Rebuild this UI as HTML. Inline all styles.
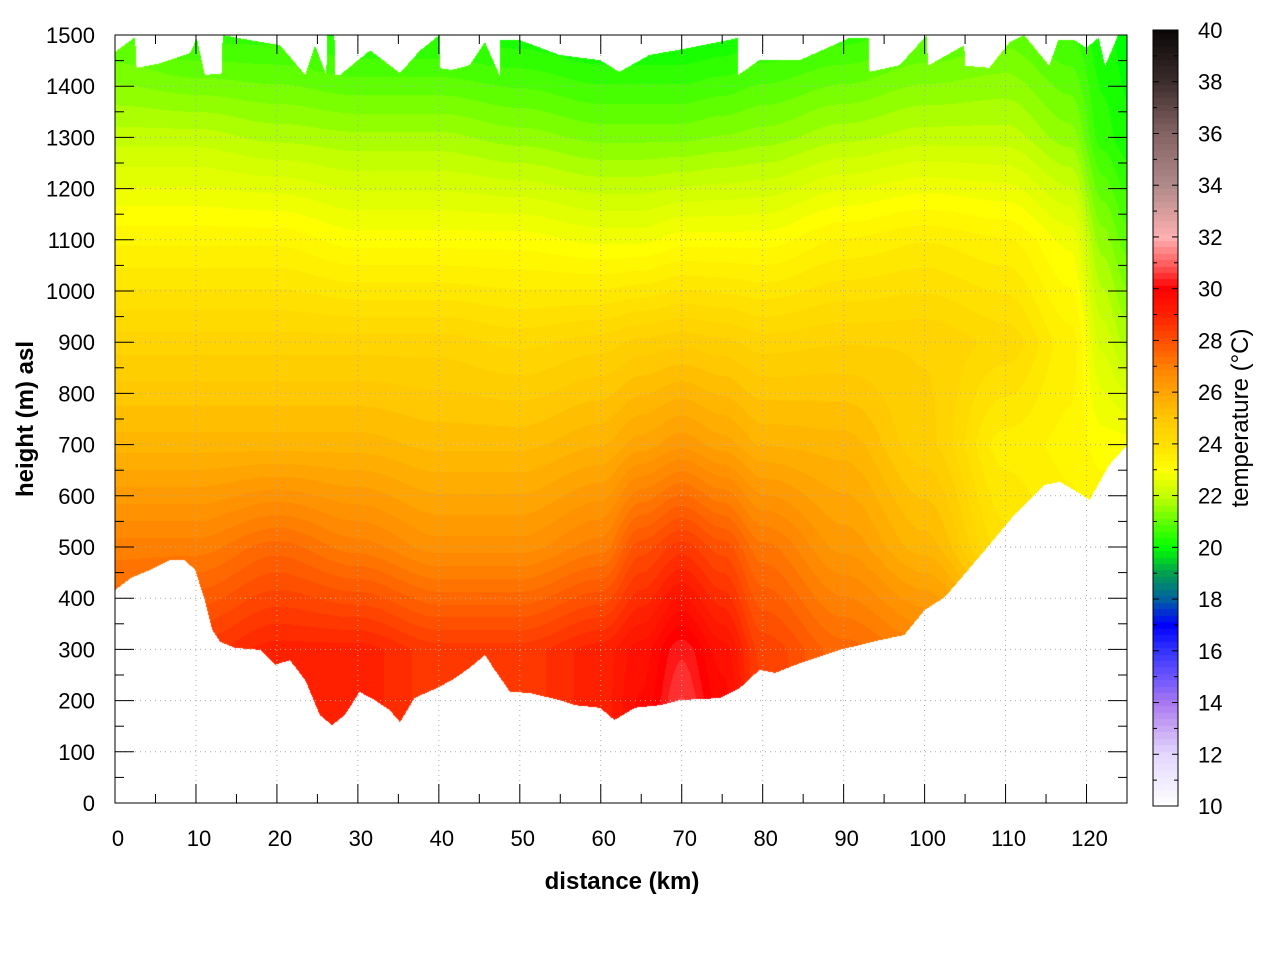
<!DOCTYPE html>
<html><head><meta charset="utf-8"><style>
body{margin:0;background:#fff;width:1280px;height:960px;overflow:hidden;font-family:"Liberation Sans",sans-serif}
#wrap{position:relative;width:1280px;height:960px}
canvas{position:absolute;left:0;top:0}
svg{position:absolute;left:0;top:0}
</style></head><body><div id="wrap">
<canvas id="cv" width="1280" height="960"></canvas>
<svg id="sv" width="1280" height="960"></svg>
</div>
<script>
const gridDist=[0,10,20,30,40,50,60,65,70,75,80,90,100,110,118,122,125];
const gridHeight=[100,300,500,700,900,1100,1300,1500];
const tempRows=[
[28,28.5,29,29,28.5,28.5,29,29.8,31,30,28.5,27.5,27,26,24.5,24,24],
[28,28.5,29,29,28.5,28.5,29,29.5,30.3,29.5,28.3,27.5,27,26,24.5,24,24],
[27,27,27.5,27,26.5,26.5,27,28,28.5,28,27.2,26.3,25.5,24,23.5,23.5,23.5],
[25.5,25.5,25.5,25.5,25.3,25.3,25.6,26,26.3,26,25.6,25.5,24.7,23.5,23.3,23,23],
[24.5,24.5,24.5,24.5,24.5,24.3,24.5,24.7,24.8,24.7,24.5,24.6,24.6,24.3,23.5,22.3,21.8],
[23.3,23.3,23.3,23,23,23,22.8,22.8,23,23,23,23.4,23.6,23.4,22.8,21.5,21],
[22,22,21.8,21.7,21.7,21.5,21.3,21.3,21.3,21.4,21.5,21.8,22,22,21.5,20.5,20.2],
[20.8,20.5,20.5,20.3,20.3,20.2,20,20,20,20.1,20.3,20.5,20.8,21,20.6,20.2,20]];
const groundDist=[0,2,4.3,6.8,8.6,9.9,11.1,12,13,14.8,17.9,19.8,21.6,23.5,25.3,26.8,28.4,30.2,32.1,33.9,35.2,37,40.1,42,43.8,45.7,46.9,48.8,51.2,54.9,56.8,59.9,61.7,64.2,67.3,69.8,74.7,77.2,79.6,81.5,84.6,89.5,94.4,97.5,100,102.5,104.3,108,111.1,114.8,116.7,118.5,120.4,122.8,125];
const groundHeight=[416,440,455,475,475,455,396,338,315,303,299,270,279,240,172,152,172,217,201,182,158,205,227,244,264,289,260,217,215,201,191,186,162,186,191,201,205,225,260,254,273,299,318,328,377,402,435,504,563,621,627,611,592,660,699];
const topDist=[0,2.5,2.6,2.8,5.6,9.3,10.1,11.1,13.2,13.3,16.7,20.4,23.5,24.7,26.1,26.2,27.1,27.2,27.8,31.5,35.2,37.7,40.1,40.2,41.6,43.8,45.7,47.5,47.6,50,54.9,59.9,62.3,66,71,76.9,77.0,79.6,84.6,90.7,93.1,93.2,96.9,100.3,100.4,104.9,105,108,110.5,112.3,115.4,116.5,118.5,120,121.5,122.3,123.9,125];
const topHeight=[1467,1496,1440,1436,1445,1465,1494,1422,1425,1500,1490,1480,1422,1480,1422,1500,1500,1422,1422,1470,1426,1470,1500,1435,1432,1441,1486,1422,1490,1490,1461,1451,1428,1461,1475,1494,1422,1451,1451,1494,1494,1428,1441,1500,1440,1480,1440,1436,1486,1500,1440,1490,1490,1475,1495,1440,1500,1500];
const cbTemps=[10,12,13,14,15,16,17,18,19,20,21,22,23,24,25,26,27,28,29,30,31,32,34,36,38,40];
const cbColors=['#ffffff','#e4d8ff','#c8a8f4','#a878f0','#6c54ff','#3434ff','#0000ff','#0060a0','#00a050','#00ff00','#60ff00','#c4ff00','#ffff00','#ffe000','#ffc800','#ffa400','#ff8000','#ff5000','#ff2000','#ff0000','#ff6060','#ffb0b0','#b08a8a','#846464','#3c2c2c','#0c0808'];
const xTicks=[0,10,20,30,40,50,60,70,80,90,100,110,120];
const yTicks=[0,100,200,300,400,500,600,700,800,900,1000,1100,1200,1300,1400,1500];
const cbTicks=[10,12,14,16,18,20,22,24,26,28,30,32,34,36,38,40];

const L=115,R=1127,T=35,B=803;
const X=d=>L+(d/125)*(R-L);
const Y=h=>B-(h/1500)*(B-T);
const CT=30,CB=806,CL=1153,CR=1178;
const CY=t=>CB-(t-10)/30*(CB-CT);
const hex=c=>[parseInt(c.slice(1,3),16),parseInt(c.slice(3,5),16),parseInt(c.slice(5,7),16)];
const cbRGB=cbColors.map(hex);
function cmap(t){t=Math.max(10,Math.min(40,t));let i=0;while(i<cbTemps.length-2&&t>cbTemps[i+1])i++;
 const f=(t-cbTemps[i])/(cbTemps[i+1]-cbTemps[i]);const a=cbRGB[i],b=cbRGB[i+1];return [a[0]+(b[0]-a[0])*f,a[1]+(b[1]-a[1])*f,a[2]+(b[2]-a[2])*f];}
function interp(xs,ys,x){if(x<=xs[0])return ys[0];for(let i=0;i<xs.length-1;i++){if(x<=xs[i+1]){const f=(x-xs[i])/((xs[i+1]-xs[i])||1);return ys[i]+(ys[i+1]-ys[i])*f;}}return ys[ys.length-1];}
function smooth(f){return f*f*(3-2*f);}
function interpS(xs,ys,x){if(x<=xs[0])return ys[0];for(let i=0;i<xs.length-1;i++){if(x<=xs[i+1]){const f=smooth((x-xs[i])/((xs[i+1]-xs[i])||1));return ys[i]+(ys[i+1]-ys[i])*f;}}return ys[ys.length-1];}
function temp(d,h){const col=tempRows.map(r=>interpS(gridDist,r,d));return interp(gridHeight,col,h);}

const cv=document.getElementById('cv'),ctx=cv.getContext('2d');
const W=R-L,H=B-T;const img=ctx.createImageData(W,H);
for(let px=0;px<W;px++){const d=(px+0.5)/W*125;const g=interp(groundDist,groundHeight,d),tp=interp(topDist,topHeight,d);
 for(let py=0;py<H;py++){const h=(H-py-0.5)/H*1500;const k=(py*W+px)*4;
  if(h<g||h>tp){img.data[k]=img.data[k+1]=img.data[k+2]=255;img.data[k+3]=255;continue;}
  let t=temp(d,h);t=Math.round(t*4)/4;const c=cmap(t);img.data[k]=c[0];img.data[k+1]=c[1];img.data[k+2]=c[2];img.data[k+3]=255;}}
ctx.putImageData(img,L,T);
for(let py=CT;py<CB;py++){const t=Math.round((40-(py-CT)/(CB-CT)*30)*4)/4;const c=cmap(t);ctx.fillStyle=`rgb(${c[0]|0},${c[1]|0},${c[2]|0})`;ctx.fillRect(CL,py,CR-CL,1);}

const sv=document.getElementById('sv');const NS='http://www.w3.org/2000/svg';
function el(tag,attrs,txt){const e=document.createElementNS(NS,tag);for(const k in attrs)e.setAttribute(k,attrs[k]);if(txt!==undefined)e.textContent=txt;sv.appendChild(e);return e;}
xTicks.forEach(v=>{const x=X(v);
 if(v>0){const g=el('line',{x1:x,x2:x,y1:T,y2:B,stroke:'#aaa','stroke-width':1,'stroke-dasharray':'1,4'});}
 const t=el('text',{x:x+3,y:846,'font-size':22,'text-anchor':'middle',fill:'#000'},String(v));
 });
for(let v=0;v<=125;v+=5){const x=X(v);const len=v%10===0?19:9;
 el('line',{x1:x,x2:x,y1:B,y2:B-len,stroke:'#000'});el('line',{x1:x,x2:x,y1:T,y2:T+len,stroke:'#000'});}
yTicks.forEach(v=>{const y=Y(v);
 if(v>0&&v<1500){const g=el('line',{x1:L,x2:R,y1:y,y2:y,stroke:'#aaa','stroke-width':1,'stroke-dasharray':'1,4'});}
 const t=el('text',{x:95,y:y+8,'font-size':22,'text-anchor':'end',fill:'#000'},String(v));
 });
for(let v=0;v<=1500;v+=50){const y=Y(v);const len=v%100===0?19:9;
 el('line',{x1:L,x2:L+len,y1:y,y2:y,stroke:'#000'});el('line',{x1:R,x2:R-len,y1:y,y2:y,stroke:'#000'});}
const fr=el('rect',{x:L,y:T,width:R-L,height:B-T,fill:'none',stroke:'#000','stroke-width':1});

cbTicks.forEach(v=>{const y=CY(v);
 const t=el('text',{x:1198,y:y+8,'font-size':22,fill:'#000'},String(v));
 });
for(let v=10;v<=40;v+=1){const y=CY(v);const len=v%2===0?6:4;
 el('line',{x1:CL,x2:CL+len,y1:y,y2:y,stroke:'#000'});el('line',{x1:CR,x2:CR-len,y1:y,y2:y,stroke:'#000'});}
const cf=el('rect',{x:CL,y:CT,width:CR-CL,height:CB-CT,fill:'none',stroke:'#000'});

const xl=el('text',{x:622,y:889,'font-size':24,'font-weight':'bold','text-anchor':'middle'},'distance (km)');

const yl=el('text',{x:0,y:0,'font-size':24,'font-weight':'bold','text-anchor':'middle',transform:'translate(33,419) rotate(-90)'},'height (m) asl');

const cl=el('text',{x:0,y:0,'font-size':24,'text-anchor':'middle',transform:'translate(1248,418) rotate(-90)'},'temperature (°C)');

</script></body></html>
